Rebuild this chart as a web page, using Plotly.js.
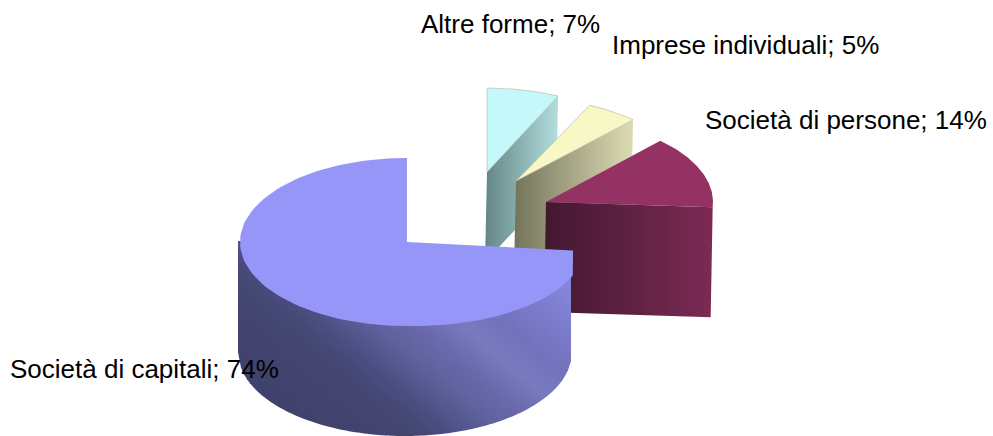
<!DOCTYPE html>
<html>
<head>
<meta charset="utf-8">
<script src="https://cdn.plot.ly/plotly-3.0.1.min.js"></script>
<style>html,body{margin:0;padding:0;background:#fff}#chart{width:993px;height:436px}</style>
</head>
<body>
<div id="chart"></div>
<script>
// Data
var categories = ["Altre forme", "Imprese individuali", "Società di persone", "Società di capitali"];
var shares = [7, 5, 14, 74];

// Styles, one entry per slice
var topColors = ["#c5f8f8", "#f8f8c6", "#933263", "#9696f9"];
var wallLeft = ["#658686", "#74745c", "#42182f", "#40426e"];
var wallRight = ["#b2dede", "#dcdcb4", "#7c2a54", "#8f8fef"];
var offsetX = [80, 109, 139, 0];
var offsetY = [-70, -61, -40, 0];
var depths = [90, 90, 110, 110];
var radiiX = [167, 171, 167, 167];
var labelX = [420, 611, 704, 9];
var labelY = [24, 45, 120, 369];

// Projection of the tilted pie on the page
var cx = 407, cy = 242, ry = 84, skewX = -2;
var nearRx = 178, nearClip = 573, nearTilt = 0.018;

function px(i, deg) { return cx + offsetX[i] + radiiX[i] * Math.cos(deg * Math.PI / 180); }
function py(i, deg) { return cy + offsetY[i] - ry * Math.sin(deg * Math.PI / 180); }

function hex(c) { return [1, 3, 5].map(function (k) { return parseInt(c.substr(k, 2), 16); }); }
var bigStops = [[-90, "#40426e"], [-30, "#43466f"], [-5, "#4a4d80"], [30, "#5f619c"], [61, "#6a6aae"], [87, "#7a7ac0"], [116, "#7272bc"], [195, "#8888e0"]];
function bigShade(x, y) {
  var d = 0.65 * (x - 300) - 0.76 * (y - 300);
  if (d <= bigStops[0][0]) return bigStops[0][1];
  for (var k = 1; k < bigStops.length; k++) {
    if (d <= bigStops[k][0]) {
      var t = (d - bigStops[k - 1][0]) / (bigStops[k][0] - bigStops[k - 1][0]);
      var a = hex(bigStops[k - 1][1]), b = hex(bigStops[k][1]);
      return "rgb(" + a.map(function (v, j) { return Math.round(v + (b[j] - v) * t); }).join(",") + ")";
    }
  }
  return bigStops[bigStops.length - 1][1];
}

var traces = [];
function poly(xs, ys, extra) {
  var t = { type: "scatter", mode: "lines", x: xs.concat([xs[0]]), y: ys.concat([ys[0]]), fill: "toself",
            line: { width: 0 }, hoverinfo: "skip", showlegend: false };
  for (var k in extra) t[k] = extra[k];
  traces.push(t);
}

var total = shares.reduce(function (a, b) { return a + b; }, 0);
var angle = 90;
shares.forEach(function (s, i) {
  var sweep = s / total * 360, a0 = angle, a1 = angle - sweep;
  var big = i === shares.length - 1;
  angle = a1;

  if (!big) {
    // flat cut face turned towards the viewer
    var ax = cx + offsetX[i], ay = cy + offsetY[i];
    var ex = px(i, a1), ey = py(i, a1), d = depths[i];
    poly([ax, ex, ex + skewX, ax + skewX], [ay, ey, ey + d, ay + d], {
      fillcolor: wallLeft[i],
      fillgradient: { type: "horizontal", colorscale: [[0, wallLeft[i]], [1, wallRight[i]]] }
    });
  } else {
    // curved outer wall: strips on whole page pixels, each with its own vertical ramp
    var xStart = Math.floor(px(i, 180) + skewX), xEnd = Math.floor(px(i, a0 + 360) + skewX), stripW = 3;
    var arcY = function (x, shift) {
      var c = Math.max(-1, Math.min(1, (x - shift - cx - offsetX[i]) / radiiX[i]));
      return cy + offsetY[i] + ry * Math.sqrt(1 - c * c);
    };
    for (var x0 = xStart; x0 < xEnd; x0 += stripW) {
      var x1 = Math.min(xEnd, x0 + stripW), dep = depths[i];
      var yb0 = arcY(x0, skewX) + dep, yb1 = arcY(x1, skewX) + dep;
      var top = Math.min(arcY(x0, 0), arcY(x1, 0)) - 1;
      var mx = (x0 + x1) / 2, bot = Math.max(yb0, yb1), sc = [];
      for (var q = 0; q <= 10; q++) sc.push([q / 10, bigShade(mx, top + (bot - top) * q / 10)]);
      poly([x0, x1, x1, x0], [top, top, yb1, yb0], {
        fillcolor: sc[5][1],
        fillgradient: { type: "vertical", colorscale: sc, start: top, stop: bot }
      });
    }
  }

  // top face
  var xs = [cx + offsetX[i]], ys = [cy + offsetY[i]], steps = 120;
  for (var m = 0; m <= steps; m++) {
    var deg = a0 + (a1 - a0) * m / steps, xp = px(i, deg), yp = py(i, deg);
    if (big && xp > cx) {
      // the near right part of the big slice bulges towards the viewer and ends in a corner
      xp = cx + nearRx * Math.cos(deg * Math.PI / 180);
      yp += nearTilt * (xp - cx);
      xp = Math.min(xp, nearClip);
    }
    xs.push(xp); ys.push(yp);
  }
  poly(xs, ys, { fillcolor: topColors[i], line: { width: i < 2 ? 0.6 : 0, color: "#b4b4aa" } });
});

var annotations = categories.map(function (c, i) {
  return { x: labelX[i], y: labelY[i], xref: "x", yref: "y", text: c + "; " + shares[i] + "%",
           showarrow: false, xanchor: "left", yanchor: "middle", align: "left",
           borderpad: 0, font: { family: "Liberation Sans, Arial, sans-serif", size: 26, color: "#000000" } };
});

var layout = {
  width: 993, height: 436, margin: { l: 0, r: 0, t: 0, b: 0 },
  paper_bgcolor: "#ffffff", plot_bgcolor: "#ffffff", showlegend: false,
  xaxis: { range: [0, 993], visible: false, fixedrange: true },
  yaxis: { range: [436, 0], visible: false, fixedrange: true },
  annotations: annotations
};
Plotly.newPlot("chart", traces, layout, { staticPlot: true, displayModeBar: false });
</script>
</body>
</html>
